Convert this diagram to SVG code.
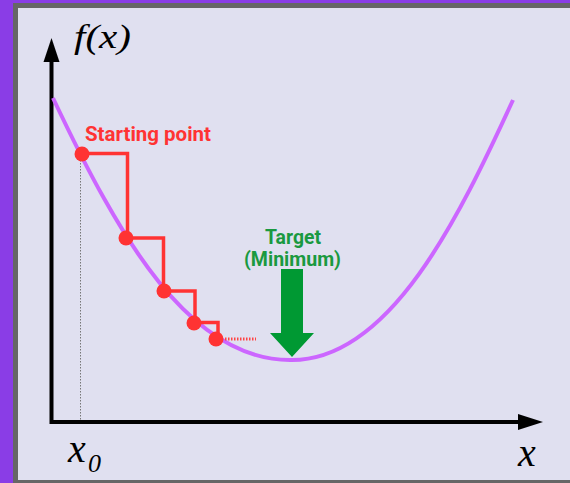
<svg xmlns="http://www.w3.org/2000/svg" width="570" height="483" viewBox="0 0 570 483">
<style>
.math{font-family:"Liberation Serif","Times New Roman",serif;font-style:italic;fill:#000}
.lbl{font-family:Roboto,"Liberation Sans",Arial,sans-serif;font-weight:bold}
.step{fill:none;stroke:#ff3333;stroke-width:3.5;stroke-linejoin:miter}
.dot{fill:#ff3333}
.axis{stroke:#000;stroke-width:4;fill:none}
</style>
<rect x="0" y="0" width="570" height="483" fill="#8a3de6"/>
<rect x="15.5" y="5.5" width="600" height="477" fill="#e0e0f0" stroke="#666666" stroke-width="5"/>
<g id="connectors">
<line x1="80.5" y1="160" x2="80.5" y2="421" stroke="#777" stroke-width="1" stroke-dasharray="1.5,1.5"/>
<path class="axis" d="M51.5,60 V422 H520"/>
<polygon points="51.5,38 43.5,62 59.5,62" fill="#000"/>
<polygon points="543,422 518,414 518,430" fill="#000"/>
<path d="M53,98 C120,240 190,360 290,360 C390,362 460,215 513,100" fill="none" stroke="#cc66ff" stroke-width="4"/>
<path class="step" d="M82,153.5 H127.5 V238 H163.5 V291 H195 V322.5 H218 V339"/>
<line x1="225" y1="339" x2="256" y2="339" stroke="#ff4444" stroke-width="3" stroke-dasharray="1.5,1.5"/>
<polygon points="281,269 303,269 303,333 314,333 292,357 270,333 281,333" fill="#009933"/>
</g>
<g id="p0"><circle class="dot" cx="82" cy="154" r="7.5"/></g>
<g id="p1"><circle class="dot" cx="126" cy="238" r="7.5"/></g>
<g id="p2"><circle class="dot" cx="164" cy="291" r="7.5"/></g>
<g id="p3"><circle class="dot" cx="194" cy="323" r="7.5"/></g>
<g id="p4"><circle class="dot" cx="216" cy="339" r="7.5"/></g>
<g id="label-start"><text class="lbl" x="85" y="140.5" font-size="20.5" fill="#ff3333" textLength="126" lengthAdjust="spacingAndGlyphs">Starting point</text></g>
<g id="label-target">
<text class="lbl" x="293" y="243.5" font-size="19.5" fill="#1a9940" text-anchor="middle" textLength="56" lengthAdjust="spacingAndGlyphs">Target</text>
<text class="lbl" x="292.5" y="265.5" font-size="19.5" fill="#1a9940" text-anchor="middle" textLength="97" lengthAdjust="spacingAndGlyphs">(Minimum)</text>
</g>
<g id="label-fx"><text class="math" x="74" y="48" font-size="33" textLength="57" lengthAdjust="spacingAndGlyphs">f(x)</text></g>
<g id="label-x0"><text class="math" x="68" y="462" font-size="40">x</text><text class="math" x="88" y="472" font-size="26">0</text></g>
<g id="label-x"><text class="math" x="518" y="466" font-size="40">x</text></g>
</svg>
